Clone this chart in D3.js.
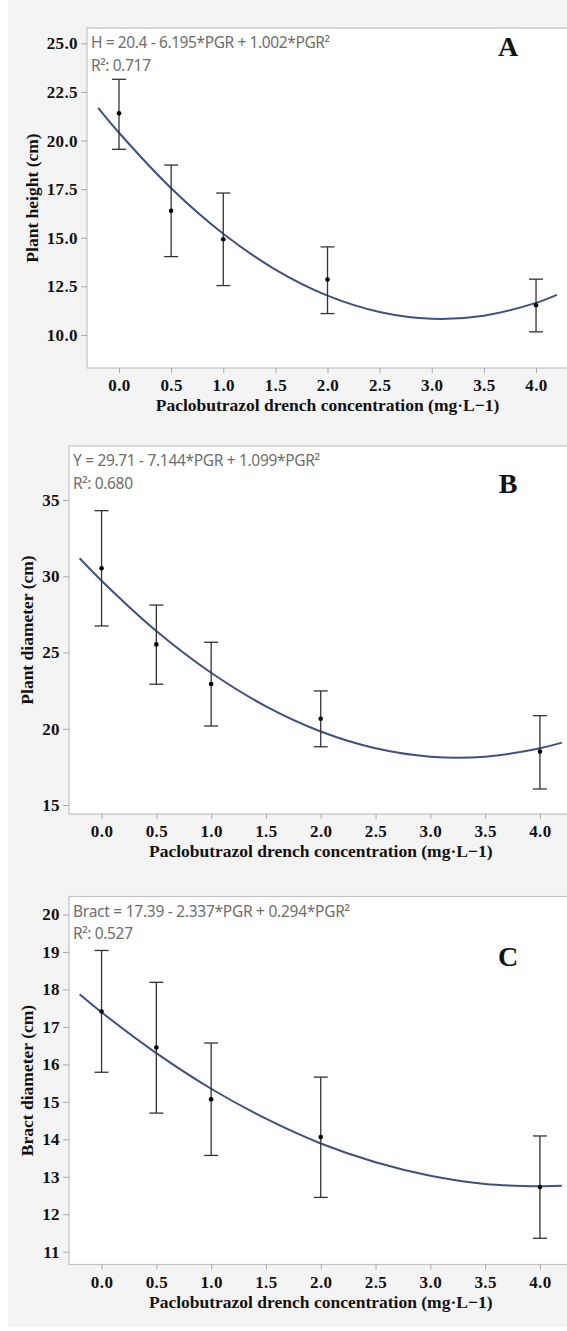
<html>
<head>
<script src="https://d3js.org/d3.v7.min.js"></script>
<style>
  body { margin: 0; background: #ffffff; }
  .axis-title { font-family: "Liberation Serif", "Times New Roman", serif; font-weight: bold; font-size: 17.5px; fill: #111; }
  .eq { font-family: "Noto Sans", "Open Sans", sans-serif; font-size: 15.5px; fill: #6e6e6e; }
  .letter { font-family: "Liberation Serif", "Times New Roman", serif; font-weight: bold; font-size: 28px; fill: #111; }
</style>
</head>
<body>
<svg width="567" height="1331" id="chart"></svg>
<script>
// treatment doses (mg/L)
const doses = [0, 0.5, 1, 2, 4];

// plant height (cm)
const heightMean = [21.40, 16.39, 14.92, 12.85, 11.53];
const heightLow  = [19.55, 14.03, 12.54, 11.10, 10.16];
const heightHigh = [23.15, 18.74, 17.30, 14.53, 12.87];

// plant diameter (cm)
const diamMean = [30.52, 25.53, 22.93, 20.66, 18.50];
const diamLow  = [26.74, 22.92, 20.18, 18.82, 16.05];
const diamHigh = [34.30, 28.11, 25.67, 22.48, 20.86];

// bract diameter (cm)
const bractMean = [17.41, 16.45, 15.07, 14.06, 12.73];
const bractLow  = [15.79, 14.70, 13.57, 12.45, 11.36];
const bractHigh = [19.04, 18.19, 16.57, 15.66, 14.09];

// fitted quadratic curves, read at these doses
const fitX = [-0.2, 0, 0.5, 1, 1.5, 2, 2.5, 3, 3.5, 4, 4.2];
const heightFit = [21.68, 20.40, 17.55, 15.21, 13.36, 12.02, 11.18, 10.83, 10.99, 11.65, 12.06];
const diamFit   = [31.18, 29.71, 26.41, 23.67, 21.47, 19.82, 18.72, 18.17, 18.17, 18.72, 19.09];
const bractFit  = [17.87, 17.39, 16.30, 15.35, 14.55, 13.89, 13.39, 13.03, 12.81, 12.75, 12.76];

// tick labels
const xTicks = [0, 0.5, 1, 1.5, 2, 2.5, 3, 3.5, 4];
const heightTicks = [10, 12.5, 15, 17.5, 20, 22.5, 25];
const diamTicks = [15, 20, 25, 30, 35];
const bractTicks = [11, 12, 13, 14, 15, 16, 17, 18, 19, 20];

const xTitle = "Paclobutrazol drench concentration (mg\u00b7L\u22121)";

const panels = [
  { mean: heightMean, low: heightLow, high: heightHigh, fit: heightFit, yTicks: heightTicks, fmt: ".1f",
    yTitle: "Plant height (cm)", eq: "H = 20.4 - 6.195*PGR + 1.002*PGR\u00b2", r2: "R\u00b2: 0.717", letter: "A",
    left: 87, top: 28, right: 567, bottom: 368, xd: [-0.307, 4.297], yd: [8.30, 25.79], letterY: 56, yTitleX: 38, eqW: 239 },
  { mean: diamMean, low: diamLow, high: diamHigh, fit: diamFit, yTicks: diamTicks, fmt: "d",
    yTitle: "Plant diameter (cm)", eq: "Y = 29.71 - 7.144*PGR + 1.099*PGR\u00b2", r2: "R\u00b2: 0.680", letter: "B",
    left: 69, top: 446, right: 567, bottom: 814, xd: [-0.297, 4.247], yd: [14.41, 38.54], letterY: 493, yTitleX: 33, eqW: 247 },
  { mean: bractMean, low: bractLow, high: bractHigh, fit: bractFit, yTicks: bractTicks, fmt: "d",
    yTitle: "Bract diameter (cm)", eq: "Bract = 17.39 - 2.337*PGR + 0.294*PGR\u00b2", r2: "R\u00b2: 0.527", letter: "C",
    left: 69, top: 896.5, right: 567, bottom: 1264.5, xd: [-0.297, 4.247], yd: [10.66, 20.48], letterY: 966, yTitleX: 33, eqW: 277 }
];

const svg = d3.select("#chart");

svg.append("rect")
  .attr("x", 8).attr("y", 0).attr("width", 559).attr("height", 1327)
  .attr("fill", "#f4f4f4");

function styleAxis(a) {
  a.select(".domain").remove();
  a.selectAll(".tick line").attr("stroke", "#a8a8a8");
  a.selectAll(".tick text")
    .attr("font-family", "'Liberation Serif', 'Times New Roman', serif")
    .attr("font-weight", "bold")
    .attr("font-size", "17px")
    .attr("letter-spacing", "0.4px")
    .attr("fill", "#111");
}

panels.forEach(p => {
  const x = d3.scaleLinear().domain(p.xd).range([p.left, p.right]);
  const y = d3.scaleLinear().domain(p.yd).range([p.bottom, p.top]);
  const g = svg.append("g");

  g.append("rect")
    .attr("x", p.left).attr("y", p.top)
    .attr("width", p.right - p.left + 5).attr("height", p.bottom - p.top)
    .attr("fill", "#ffffff").attr("stroke", "#c2c2c2").attr("stroke-width", 1.2);

  const yAxis = g.append("g")
    .attr("transform", `translate(${p.left},0)`)
    .call(d3.axisLeft(y).tickValues(p.yTicks).tickFormat(d3.format(p.fmt)).tickSize(6).tickPadding(3));
  styleAxis(yAxis);

  const xAxis = g.append("g")
    .attr("transform", `translate(0,${p.bottom})`)
    .call(d3.axisBottom(x).tickValues(xTicks).tickFormat(d3.format(".1f")).tickSize(5).tickPadding(6));
  styleAxis(xAxis);

  g.append("text").attr("class", "axis-title")
    .attr("x", x(2)).attr("y", p.bottom + 43)
    .attr("text-anchor", "middle")
    .text(xTitle);

  g.append("text").attr("class", "axis-title")
    .attr("transform", `translate(${p.yTitleX},${(p.top + p.bottom) / 2}) rotate(-90)`)
    .attr("text-anchor", "middle")
    .text(p.yTitle);

  g.append("text").attr("class", "eq")
    .attr("x", p.left + 4).attr("y", p.top + 20)
    .attr("textLength", p.eqW).attr("lengthAdjust", "spacing")
    .text(p.eq);
  g.append("text").attr("class", "eq")
    .attr("x", p.left + 4).attr("y", p.top + 42.5)
    .attr("textLength", 60).attr("lengthAdjust", "spacing")
    .text(p.r2);

  g.append("text").attr("class", "letter")
    .attr("x", 508).attr("y", p.letterY)
    .attr("text-anchor", "middle")
    .text(p.letter);

  // fitted curve
  const line = d3.line()
    .x((d, i) => x(fitX[i]))
    .y(d => y(d))
    .curve(d3.curveCatmullRom);
  g.append("path")
    .datum(p.fit)
    .attr("d", line)
    .attr("fill", "none")
    .attr("stroke", "#3e5282")
    .attr("stroke-width", 2);

  // error bars
  const bars = g.selectAll(".bar").data(doses).enter().append("g").attr("class", "bar");
  bars.append("line")
    .attr("x1", d => x(d)).attr("x2", d => x(d))
    .attr("y1", (d, i) => y(p.high[i])).attr("y2", (d, i) => y(p.low[i]))
    .attr("stroke", "#333").attr("stroke-width", 1.3);
  bars.append("line")
    .attr("x1", d => x(d) - 7).attr("x2", d => x(d) + 7)
    .attr("y1", (d, i) => y(p.high[i])).attr("y2", (d, i) => y(p.high[i]))
    .attr("stroke", "#333").attr("stroke-width", 1.3);
  bars.append("line")
    .attr("x1", d => x(d) - 7).attr("x2", d => x(d) + 7)
    .attr("y1", (d, i) => y(p.low[i])).attr("y2", (d, i) => y(p.low[i]))
    .attr("stroke", "#333").attr("stroke-width", 1.3);
  bars.append("circle")
    .attr("cx", d => x(d)).attr("cy", (d, i) => y(p.mean[i]))
    .attr("r", 2.3).attr("fill", "#000");
});
</script>
</body>
</html>
